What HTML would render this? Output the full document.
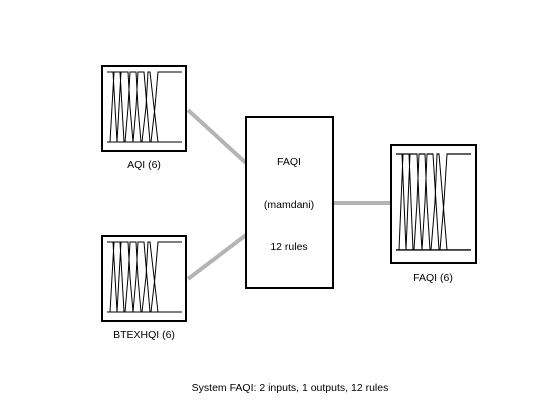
<!DOCTYPE html>
<html><head><meta charset="utf-8"><style>
html,body{margin:0;padding:0;background:#fff;width:560px;height:420px;overflow:hidden}
svg text{font-family:"Liberation Sans",Arial,sans-serif;font-size:10.5px;fill:#000}
</style></head><body>
<svg width="560" height="420" viewBox="0 0 560 420" xmlns="http://www.w3.org/2000/svg">
<g stroke="#b4b4b4" stroke-width="4" fill="none">
<line x1="188" y1="110" x2="246" y2="163"/>
<line x1="188" y1="279" x2="246" y2="235"/>
<line x1="333" y1="203" x2="390" y2="203"/>
</g>
<defs>
<g id="mf" fill="none" stroke="#000" stroke-width="1">
<line x1="0" y1="70" x2="75" y2="70"/>
<polyline points="0,0 6,0 8,35 10,70"/>
<polyline points="3,70 5,35 7,0 13,0 15,35 17,70"/>
<polyline points="10,70 12,35 14,0 21,0 23,35 26,70"/>
<polyline points="18,70 21,35 23,0 29,0 31,35 34,70"/>
<polyline points="26,70 29,35 31,0 37,0 40,35 43,70"/>
<polyline points="35,70 39,35 41,0 43,0 47,35 51,70"/>
<polyline points="44,70 48,35 51,0 75,0"/>
</g>
</defs>
<rect x="102" y="66" width="84" height="85" fill="#fff" stroke="#000" stroke-width="2"/>
<use href="#mf" x="107" y="72"/>
<text x="144" y="168" text-anchor="middle">AQI (6)</text>
<rect x="102" y="236" width="84" height="85" fill="#fff" stroke="#000" stroke-width="2"/>
<use href="#mf" x="107" y="242"/>
<text x="144" y="338" text-anchor="middle">BTEXHQI (6)</text>
<rect x="391" y="145" width="85" height="118" fill="#fff" stroke="#000" stroke-width="2"/>
<g transform="translate(396,154) scale(1,1.37)"><use href="#mf"/></g>
<text x="433" y="281" text-anchor="middle">FAQI (6)</text>
<rect x="246" y="117" width="87" height="171" fill="#fff" stroke="#000" stroke-width="2"/>
<text x="289" y="165" text-anchor="middle">FAQI</text>
<text x="289" y="208" text-anchor="middle">(mamdani)</text>
<text x="289" y="250" text-anchor="middle">12 rules</text>
<text x="290" y="391" text-anchor="middle">System FAQI: 2 inputs, 1 outputs, 12 rules</text>
</svg>
</body></html>
